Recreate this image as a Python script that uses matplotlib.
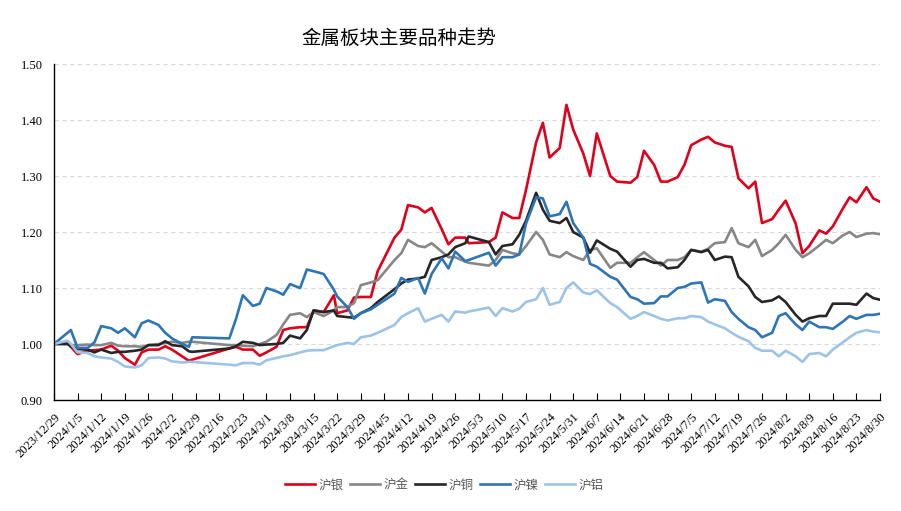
import matplotlib
matplotlib.use("Agg")
import matplotlib.pyplot as plt
import pandas as pd

dates = ["2023-12-29","2024-01-02","2024-01-03","2024-01-05","2024-01-08","2024-01-10","2024-01-12",
         "2024-01-15","2024-01-17","2024-01-19","2024-01-22","2024-01-24","2024-01-26","2024-01-29",
         "2024-01-31","2024-02-02","2024-02-05","2024-02-07","2024-02-08","2024-02-19","2024-02-21",
         "2024-02-23","2024-02-26","2024-02-28","2024-03-01","2024-03-04","2024-03-06","2024-03-08",
         "2024-03-11","2024-03-13","2024-03-15","2024-03-18","2024-03-21","2024-03-22","2024-03-25",
         "2024-03-27","2024-03-29","2024-04-01","2024-04-03","2024-04-08","2024-04-10","2024-04-12",
         "2024-04-15","2024-04-17","2024-04-19","2024-04-22","2024-04-24","2024-04-26","2024-04-29",
         "2024-04-30","2024-05-06","2024-05-08","2024-05-10","2024-05-13","2024-05-15","2024-05-17",
         "2024-05-20","2024-05-22","2024-05-24","2024-05-27","2024-05-29","2024-05-31","2024-06-03",
         "2024-06-05","2024-06-07","2024-06-11","2024-06-13","2024-06-17","2024-06-19","2024-06-21",
         "2024-06-24","2024-06-26","2024-06-28","2024-07-01","2024-07-03","2024-07-05","2024-07-08",
         "2024-07-10","2024-07-12","2024-07-15","2024-07-17","2024-07-19","2024-07-22","2024-07-24",
         "2024-07-26","2024-07-29","2024-07-31","2024-08-02","2024-08-05","2024-08-07","2024-08-09",
         "2024-08-12","2024-08-14","2024-08-16","2024-08-19","2024-08-21","2024-08-23","2024-08-26",
         "2024-08-28","2024-08-30"]

silver = [1.000,1.003,0.995,0.982,0.988,0.989,0.990,0.997,0.988,0.975,0.963,0.985,0.990,0.990,
          0.996,0.990,0.978,0.970,0.972,0.992,0.995,0.990,0.990,0.979,0.985,0.995,1.025,1.028,
          1.030,1.030,1.060,1.057,1.087,1.055,1.060,1.083,1.084,1.084,1.130,1.190,1.204,1.248,
          1.244,1.235,1.243,1.205,1.178,1.190,1.190,1.180,1.182,1.190,1.235,1.225,1.225,1.275,
          1.360,1.395,1.333,1.350,1.427,1.383,1.340,1.300,1.376,1.300,1.290,1.288,1.298,1.345,
          1.320,1.290,1.290,1.298,1.320,1.355,1.365,1.370,1.360,1.354,1.352,1.296,1.278,1.290,
          1.216,1.223,1.240,1.256,1.215,1.162,1.175,1.203,1.197,1.210,1.242,1.262,1.253,1.280,
          1.260,1.254]

gold = [1.000,1.000,0.998,0.998,0.999,0.998,0.998,1.002,0.997,0.996,0.996,0.995,0.998,1.000,
        1.002,1.004,1.002,1.004,1.004,0.998,0.998,0.997,0.996,1.000,1.004,1.016,1.035,1.052,
        1.055,1.048,1.057,1.050,1.060,1.066,1.066,1.073,1.105,1.110,1.114,1.150,1.162,1.186,
        1.175,1.173,1.180,1.165,1.155,1.155,1.147,1.145,1.140,1.150,1.168,1.162,1.160,1.175,
        1.200,1.186,1.160,1.155,1.164,1.157,1.150,1.168,1.171,1.136,1.145,1.145,1.155,1.164,
        1.150,1.140,1.150,1.150,1.155,1.168,1.165,1.170,1.180,1.182,1.207,1.180,1.173,1.186,
        1.157,1.168,1.180,1.195,1.168,1.155,1.162,1.176,1.186,1.180,1.194,1.200,1.191,1.197,
        1.198,1.196]

copper = [1.000,1.000,0.996,0.991,0.990,0.985,0.990,0.984,0.986,0.986,0.988,0.990,0.998,0.998,
          1.005,0.998,0.996,0.987,0.986,0.992,0.996,1.004,1.002,0.998,0.999,1.000,1.002,1.015,
          1.010,1.025,1.060,1.057,1.060,1.050,1.048,1.047,1.055,1.064,1.075,1.098,1.108,1.115,
          1.117,1.120,1.150,1.155,1.160,1.173,1.180,1.192,1.182,1.160,1.175,1.178,1.195,1.220,
          1.270,1.240,1.220,1.216,1.225,1.200,1.190,1.163,1.185,1.170,1.165,1.138,1.150,1.152,
          1.145,1.145,1.135,1.137,1.150,1.168,1.164,1.168,1.150,1.156,1.155,1.120,1.103,1.084,
          1.075,1.078,1.085,1.075,1.052,1.040,1.046,1.050,1.050,1.072,1.072,1.072,1.070,1.090,
          1.082,1.079]

nickel = [1.000,1.020,1.025,0.993,0.993,1.003,1.032,1.028,1.020,1.028,1.012,1.037,1.042,1.034,
          1.020,1.010,1.000,0.995,1.012,1.010,1.045,1.087,1.068,1.072,1.100,1.094,1.088,1.107,
          1.100,1.133,1.130,1.125,1.097,1.085,1.066,1.045,1.055,1.062,1.070,1.090,1.118,1.111,
          1.118,1.090,1.125,1.153,1.135,1.165,1.148,1.150,1.163,1.140,1.155,1.155,1.160,1.215,
          1.262,1.260,1.228,1.232,1.254,1.216,1.190,1.143,1.138,1.120,1.115,1.084,1.080,1.072,
          1.073,1.085,1.085,1.100,1.102,1.108,1.110,1.074,1.080,1.077,1.057,1.045,1.030,1.025,
          1.012,1.020,1.050,1.055,1.035,1.025,1.040,1.030,1.030,1.027,1.040,1.050,1.045,1.052,
          1.052,1.054]

aluminum = [1.000,1.006,1.000,0.985,0.984,0.978,0.976,0.974,0.968,0.960,0.958,0.962,0.975,0.976,
            0.974,0.969,0.967,0.968,0.968,0.963,0.962,0.966,0.966,0.963,0.971,0.975,0.978,0.980,
            0.985,0.988,0.989,0.989,0.996,0.998,1.002,1.000,1.012,1.015,1.020,1.034,1.048,1.055,
            1.064,1.040,1.045,1.052,1.040,1.058,1.056,1.058,1.065,1.050,1.064,1.058,1.063,1.075,
            1.080,1.100,1.070,1.075,1.100,1.110,1.092,1.089,1.096,1.073,1.066,1.045,1.050,1.057,
            1.050,1.045,1.042,1.046,1.046,1.050,1.048,1.040,1.035,1.028,1.020,1.013,1.005,0.993,
            0.988,0.988,0.978,0.988,0.978,0.968,0.982,0.984,0.978,0.990,1.003,1.012,1.020,1.025,
            1.022,1.021]

series_names = ["沪银", "沪金", "沪铜", "沪镍", "沪铝"]
series_values = [silver, gold, copper, nickel, aluminum]
series_colors = ["#E0001B", "#878787", "#262626", "#2E75B6", "#9DC3E6"]
title = "金属板块主要品种走势"
y_ticks = [0.90, 1.00, 1.10, 1.20, 1.30, 1.40, 1.50]

for v in series_values:
    assert len(v) == len(dates)

x = pd.to_datetime(dates)

fig = plt.figure(figsize=(9.01, 5.11), dpi=100)
ax = fig.add_axes([54/901, 1-400/511, (880-54)/901, (400-64)/511])

for name, vals, col in zip(series_names, series_values, series_colors):
    ax.plot(x, vals, color=col, lw=1.9, label=name, solid_joinstyle="round")

start, end = pd.Timestamp("2023-12-29"), pd.Timestamp("2024-08-30")
ax.set_xlim(start, end)
ax.set_ylim(0.90, 1.50)
ticks = pd.date_range(start, end, freq="7D")
ax.set_xticks(ticks)
ax.set_xticklabels([f"{d.year}/{d.month}/{d.day}" for d in ticks],
                   rotation=45, ha="right", va="top", rotation_mode="anchor",
                   fontfamily="Liberation Serif", fontsize=9, color="#000000")
ax.set_yticks(y_ticks)
ax.set_yticklabels([f"{t:.2f}" for t in y_ticks], fontfamily="Liberation Serif", fontsize=9)

ax.tick_params(axis="x", direction="in", length=5, width=0.8, pad=8)
ax.tick_params(axis="y", length=0, pad=8)
for s in ["top", "right"]:
    ax.spines[s].set_visible(False)
for s in ["left", "bottom"]:
    ax.spines[s].set_color("#000000")
    ax.spines[s].set_linewidth(1.0)

ax.yaxis.grid(True, color="#D9D9D9", linestyle=(0, (4, 3)), linewidth=0.8)
ax.set_axisbelow(True)

fig.text(399/901, 1-38/511, title, ha="center", va="center",
         fontfamily=["Noto Sans CJK SC"], fontsize=14, color="#000000")

leg = fig.legend(loc="center", bbox_to_anchor=(444/901, 1-485/511), ncol=5, frameon=False,
                 prop={"family": ["Noto Sans CJK SC"], "size": 9},
                 handlelength=2.4, handletextpad=0.3, columnspacing=0.5)
for t in leg.get_texts():
    t.set_color("#595959")

fig.savefig("out.png", dpi=100)
